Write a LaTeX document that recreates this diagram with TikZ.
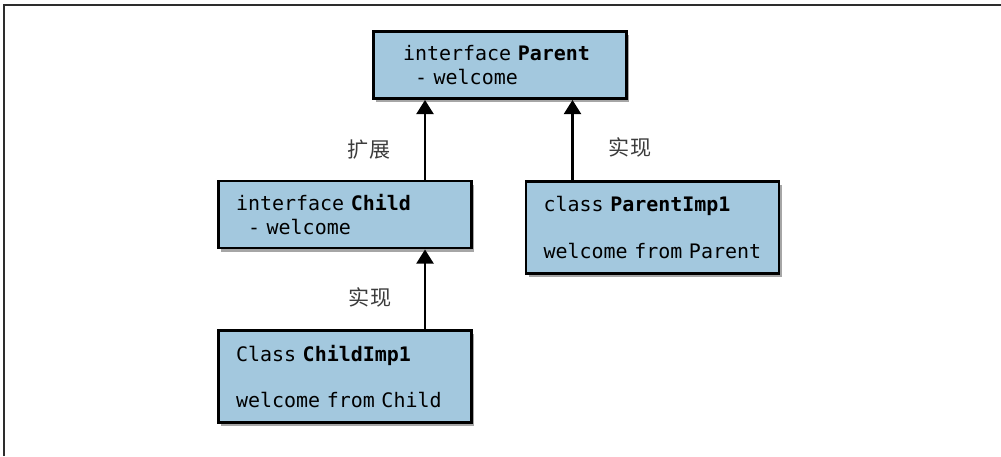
\documentclass[tikz,border=0pt]{standalone}
\usepackage{fontspec}
\setmonofont[WordSpace={1,0,0}, PunctuationSpace=WordSpace]{DejaVu Sans Mono}
\newfontfamily\cjk{Noto Sans CJK SC}
\usetikzlibrary{arrows.meta,shadows}

\definecolor{azulCaixa}{RGB}{163,200,222}
\definecolor{cinzaTexto}{RGB}{60,60,60}
\definecolor{cinzaMoldura}{RGB}{45,45,45}

\begin{document}
\begin{tikzpicture}[
        every node/.style={inner sep=0pt},
        nodeCaixa/.style={rectangle, draw=black, line width=2.1pt, fill=azulCaixa, align=left,
            font=\ttfamily\fontsize{14.2}{17}\selectfont, inner xsep=0.4375cm, text width=5.45cm,
            minimum height=1.675cm,
            drop shadow={shadow xshift=2pt, shadow yshift=-2.5pt, fill=black, opacity=0.35}},
        nodeClasse/.style={nodeCaixa, minimum height=2.3cm},
        nodeTopo/.style={nodeCaixa, inner xsep=0.7375cm, text width=4.85cm},
        nodeRotulo/.style={font=\cjk\fontsize{15}{18}\selectfont, text=cinzaTexto},
        seta/.style={-{Triangle[width=12pt, length=10pt]}, line width=1.8pt}
        ]
        \useasboundingbox (0,0) rectangle (25.025,-11.4);
        \draw[line width=1.5pt, cinzaMoldura] (0.1,-11.4) -- (0.1,-0.125) -- (25.025,-0.125);

        \node[nodeTopo] (parent) at (12.5,-1.625) {interface \textbf{Parent}\\\hphantom{x}- welcome};
        \node[nodeCaixa] (child) at (8.625,-5.3625) {interface \textbf{Child}\\\hphantom{x}- welcome};
        \node[nodeClasse] (childImp) at (8.625,-9.4125) {Class \textbf{ChildImp1}\\[16pt]welcome~from~Child};
        \node[nodeClasse] (parentImp) at (16.3125,-5.6875) {class \textbf{ParentImp1}\\[16pt]welcome~from~Parent};

        \node[nodeRotulo] (rotExt) at (9.225,-3.75) {扩展};
        \node[nodeRotulo] (rotImpA) at (15.75,-3.675) {实现};
        \node[nodeRotulo] (rotImpB) at (9.25,-7.425) {实现};

        % pontos de saida das setas
        \coordinate (saiChild) at ([xshift=2cm]child.north);
        \coordinate (saiChildImp) at ([xshift=2cm]childImp.north);
        \coordinate (saiParentImp) at ([xshift=-2cm]parentImp.north);

        \draw[seta] (saiChild) -- (saiChild |- parent.south);
        \draw[seta] (saiParentImp) -- (saiParentImp |- parent.south);
        \draw[seta] (saiChildImp) -- (saiChildImp |- child.south);
    \end{tikzpicture}
\end{document}
